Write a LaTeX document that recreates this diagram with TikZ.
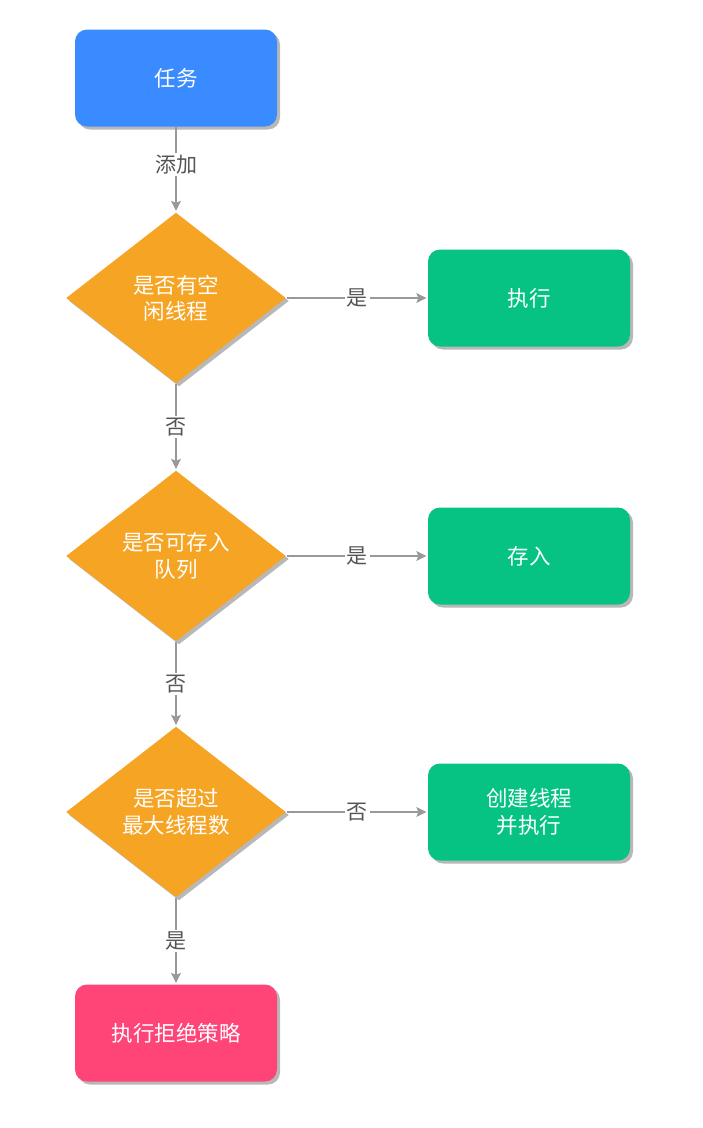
\documentclass[tikz,border=0pt]{standalone}
\usepackage{fontspec}
\newfontfamily\cjk{Noto Sans CJK SC}
\usetikzlibrary{shapes.geometric,shadows,arrows.meta,positioning}
\definecolor{taskblue}{HTML}{3A8BFF}
\definecolor{askorange}{HTML}{F6A424}
\definecolor{dogreen}{HTML}{06C384}
\definecolor{stoppink}{HTML}{FF4577}
\definecolor{linegray}{HTML}{999999}
\definecolor{labelgray}{HTML}{555555}

\begin{document}
\begin{tikzpicture}[shorten >=1pt,->,>={Stealth[length=10pt,width=10pt,inset=2pt]},
        color=linegray, line width=1.3pt, node distance=220pt]
        \tikzstyle{box}=[
            rectangle, rounded corners=12pt, minimum width=202pt, minimum height=97pt,
            text=white, align=center, font=\cjk\fontsize{21.5}{26.5}\selectfont,
            drop shadow={shadow xshift=3pt, shadow yshift=-3pt, fill=black!28, opacity=1},
        ]
        \tikzstyle{task box}=[box, fill=taskblue];
        \tikzstyle{action box}=[box, fill=dogreen];
        \tikzstyle{reject box}=[box, fill=stoppink];
        \tikzstyle{decision}=[box, diamond, rounded corners=0pt, inner sep=0pt,
            aspect=1.29, minimum width=220pt, minimum height=171pt, fill=askorange];
        \tikzstyle{answer}=[fill=white, text=labelgray, inner sep=2pt,
            font=\cjk\fontsize{21}{24}\selectfont]

        \useasboundingbox (0,0) rectangle (702pt,-1128pt);

        % Draw the main column
        \node[task box] (task) at (176pt,-78pt) {任务};
        \node[decision, below of=task] (D-1) {是否有空\\闲线程};
        \node[decision, below of=D-1, node distance=258pt] (D-2) {是否可存入\\队列};
        \node[decision, below of=D-2, node distance=256pt] (D-3) {是否超过\\最大线程数};
        \node[reject box, below of=D-3, node distance=221pt] (reject) {执行拒绝策略};

        % Draw the action boxes
        \node[action box, right of=D-1, node distance=353pt] (A-1) {执行};
        \node[action box, right of=D-2, node distance=353pt] (A-2) {存入};
        \node[action box, right of=D-3, node distance=353pt] (A-3) {创建线程\\并执行};

        % Connect the column
        \path (task) edge node[answer, pos=0.44] {添加} (D-1);
        \path (D-1) edge node[answer] {否} (D-2);
        \path (D-2) edge node[answer] {否} (D-3);
        \path (D-3) edge node[answer] {是} (reject);

        % Connect every decision with its action
        \foreach \id/\ans in {1/是,2/是,3/否}
            \path (D-\id) edge node[answer] {\ans} (A-\id);
    \end{tikzpicture}
\end{document}
